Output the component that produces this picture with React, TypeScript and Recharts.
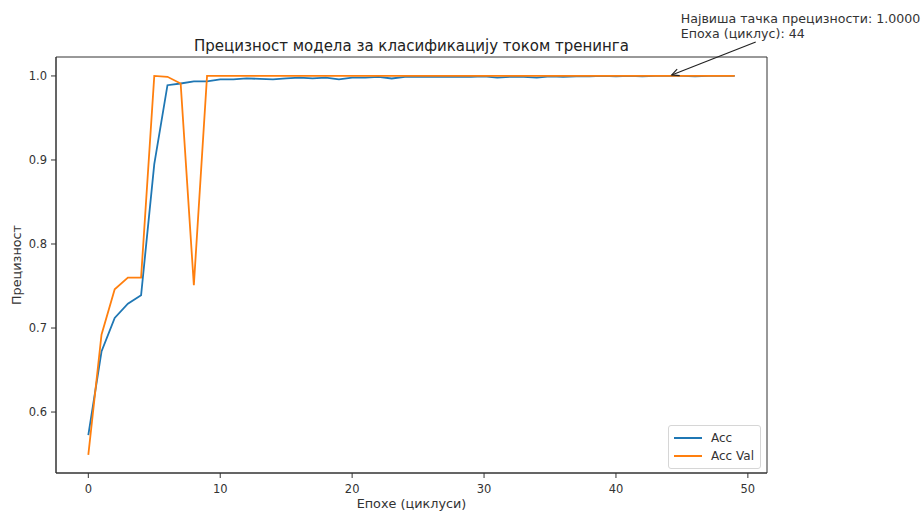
import React from 'react';
import { LineChart, Line, XAxis, YAxis, Legend, ReferenceArea, ReferenceDot } from 'recharts';

const epochs: number[] = Array.from({ length: 50 }, (_, i) => i);

const acc: number[] = [
  0.5725, 0.672, 0.712, 0.729, 0.739, 0.895, 0.989, 0.991, 0.9935, 0.9935,
  0.996, 0.996, 0.997, 0.9965, 0.996, 0.997, 0.998, 0.997, 0.998, 0.996,
  0.998, 0.998, 0.999, 0.997, 0.999, 0.999, 0.999, 0.999, 0.999, 0.999,
  0.9995, 0.998, 0.999, 0.999, 0.998, 0.9995, 0.999, 0.9995, 0.9995, 1.0,
  0.9995, 1.0, 0.9995, 1.0, 1.0, 1.0, 0.9995, 1.0, 1.0, 1.0,
];

const accVal: number[] = [
  0.549, 0.692, 0.746, 0.76, 0.76, 1.0, 0.999, 0.991, 0.751, 1.0,
  1.0, 1.0, 1.0, 1.0, 1.0, 1.0, 1.0, 1.0, 1.0, 1.0,
  1.0, 1.0, 1.0, 1.0, 1.0, 1.0, 1.0, 1.0, 1.0, 1.0,
  1.0, 1.0, 1.0, 1.0, 1.0, 1.0, 1.0, 1.0, 1.0, 1.0,
  1.0, 1.0, 1.0, 1.0, 1.0, 1.0, 1.0, 1.0, 1.0, 1.0,
];

const xTicks: number[] = [0, 10, 20, 30, 40, 50];
const yTicks: number[] = [0.6, 0.7, 0.8, 0.9, 1.0];
const xDomain: [number, number] = [-2.45, 51.45];
const yDomain: [number, number] = [0.52745, 1.02255];

const bestEpoch = 44;
const bestAcc = 1.0;

const titleText = 'Прецизност модела за класификацију током тренинга';
const xLabel = 'Епохе (циклуси)';
const yLabel = 'Прецизност';
const annoLine1 = `Највиша тачка прецизности: ${bestAcc.toFixed(4)}`;
const annoLine2 = `Епоха (циклус): ${bestEpoch}`;

const data = epochs.map((e, i) => ({ epoch: e, acc: acc[i], accVal: accVal[i] }));

const FONT = '"DejaVu Sans", sans-serif';
const TXT = '#333';

const AnnotationShape = (props: any) => {
  const { cx, cy } = props;
  if (cx == null || cy == null) return null;
  const sx = cx + 87;
  const sy = cy - 34;
  const ex = cx + 3;
  const ey = cy - 1;
  const ang = Math.atan2(ey - sy, ex - sx);
  const hl = 8;
  const hw = 0.45;
  const p1 = [ex - hl * Math.cos(ang - hw), ey - hl * Math.sin(ang - hw)];
  const p2 = [ex - hl * Math.cos(ang + hw), ey - hl * Math.sin(ang + hw)];
  return (
    <g>
      <line x1={sx} y1={sy} x2={ex} y2={ey} stroke="#222" strokeWidth={1.2} />
      <polyline points={`${p1[0]},${p1[1]} ${ex},${ey} ${p2[0]},${p2[1]}`} fill="none" stroke="#222" strokeWidth={1.2} />
      <text x={cx + 12} y={cy - 53} fontSize={12.6} fill={TXT} fontFamily={FONT}>{annoLine1}</text>
      <text x={cx + 12} y={cy - 38} fontSize={12.6} fill={TXT} fontFamily={FONT}>{annoLine2}</text>
    </g>
  );
};

const LegendContent = (props: any) => {
  const { payload } = props;
  return (
    <div
      style={{
        border: '1px solid #d6d6d6',
        borderRadius: 3,
        background: 'rgba(255,255,255,0.85)',
        padding: '3px 6px 3px 5px',
        fontFamily: FONT,
        fontSize: 12,
        color: TXT,
      }}
    >
      {(payload || []).map((p: any) => (
        <div key={p.value} style={{ display: 'flex', alignItems: 'center', height: 18 }}>
          <svg width={28} height={10} style={{ marginRight: 9 }}>
            <line x1={0} y1={5} x2={28} y2={5} stroke={p.color} strokeWidth={2} />
          </svg>
          <span>{p.value}</span>
        </div>
      ))}
    </div>
  );
};

export default function App() {
  return (
    <div style={{ position: 'absolute', left: 0, top: 0, width: 924, height: 512, background: '#fff' }}>
      <div
        style={{
          position: 'absolute',
          left: 56,
          width: 711,
          top: 37,
          textAlign: 'center',
          fontFamily: FONT,
          fontSize: 15,
          color: '#222',
          lineHeight: '18px',
        }}
      >
        {titleText}
      </div>
      <LineChart
        width={924}
        height={512}
        data={data}
        margin={{ top: 57, right: 157, left: 0, bottom: 9 }}
        style={{ position: 'absolute', left: 0, top: 0, overflow: 'visible' }}
      >
        <XAxis
          dataKey="epoch"
          type="number"
          domain={xDomain}
          ticks={xTicks}
          allowDataOverflow
          height={30}
          tickSize={5}
          tickMargin={7}
          stroke="#333"
          tick={{ fill: TXT, fontSize: 11.5, fontFamily: FONT }}
          label={(p: any) => {
            const vb = p.viewBox || {};
            return (
              <text x={vb.x + vb.width / 2} y={vb.y + 35} textAnchor="middle" fontSize={12.8} fill={TXT} fontFamily={FONT}>
                {xLabel}
              </text>
            );
          }}
        />
        <YAxis
          type="number"
          domain={yDomain}
          ticks={yTicks}
          allowDataOverflow
          width={56}
          tickSize={5}
          tickMargin={4}
          stroke="#333"
          tickFormatter={(v: number) => v.toFixed(1)}
          tick={{ fill: TXT, fontSize: 11.5, fontFamily: FONT }}
          label={(p: any) => {
            const vb = p.viewBox || {};
            const cx = vb.x + 21;
            const cy = vb.y + vb.height / 2;
            return (
              <text x={cx} y={cy} transform={`rotate(-90 ${cx} ${cy})`} textAnchor="middle" fontSize={12.8} fill={TXT} fontFamily={FONT}>
                {yLabel}
              </text>
            );
          }}
        />
        <ReferenceArea
          x1={xDomain[0]}
          x2={xDomain[1]}
          y1={yDomain[0]}
          y2={yDomain[1]}
          fill="none"
          stroke="#333"
          strokeWidth={1}
          ifOverflow="visible"
        />
        <Line
          type="linear"
          dataKey="acc"
          name="Acc"
          stroke="#1f77b4"
          strokeWidth={1.8}
          dot={false}
          activeDot={false}
          isAnimationActive={false}
        />
        <Line
          type="linear"
          dataKey="accVal"
          name="Acc Val"
          stroke="#ff7f0e"
          strokeWidth={1.8}
          dot={false}
          activeDot={false}
          isAnimationActive={false}
        />
        <ReferenceDot x={bestEpoch} y={bestAcc} r={0} ifOverflow="visible" shape={AnnotationShape} />
        <Legend
          content={LegendContent}
          layout="horizontal"
          verticalAlign="middle"
          align="center"
          wrapperStyle={{ position: 'absolute', left: 668, top: 425, width: 'auto' }}
        />
      </LineChart>
    </div>
  );
}
